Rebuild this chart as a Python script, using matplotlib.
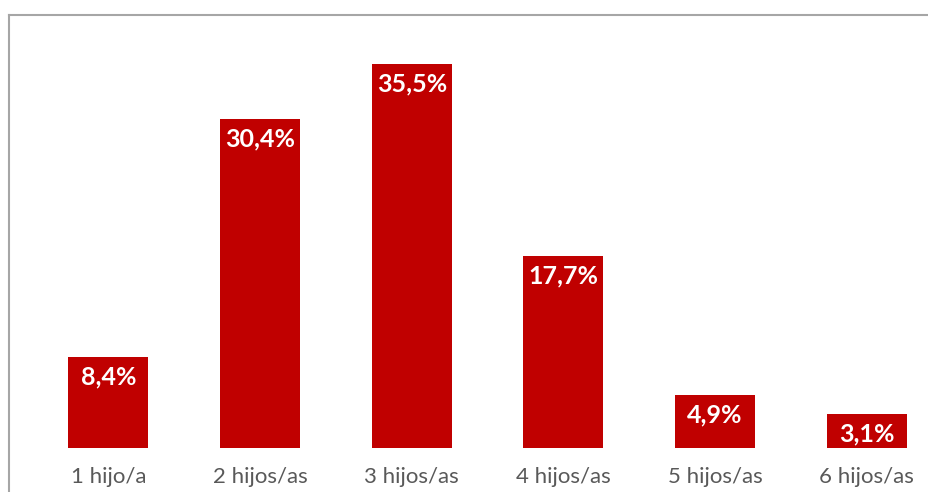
import matplotlib.pyplot as plt
from matplotlib.lines import Line2D

categorias = ['1 hijo/a', '2 hijos/as', '3 hijos/as', '4 hijos/as', '5 hijos/as', '6 hijos/as']
porcentajes = [8.4, 30.4, 35.5, 17.7, 4.9, 3.1]
etiquetas = ['8,4%', '30,4%', '35,5%', '17,7%', '4,9%', '3,1%']

W, H = 929, 492
fig = plt.figure(figsize=(W / 100, H / 100), dpi=100)

# plot area runs past the right edge, like the cropped original
ax = fig.add_axes([32.6 / W, 44 / H, 910 / W, 434 / H])
x = range(len(categorias))
ax.bar(x, porcentajes, width=0.527, color='#C00000')
ax.set_xlim(-0.5, 5.5)
ax.set_ylim(0, 434 / 10.82)

for i, (v, t) in enumerate(zip(porcentajes, etiquetas)):
    ax.annotate(t, (i, v), xytext=(0, -6), textcoords='offset points',
                ha='center', va='top', color='white', fontsize=18,
                fontweight='bold', family='Lato')

ax.set_xticks(list(x))
ax.set_xticklabels(categorias, fontsize=16, color='#595959', family='Lato')
ax.tick_params(axis='x', length=0, pad=14)
ax.set_yticks([])
for s in ax.spines.values():
    s.set_visible(False)

# gray frame of the chart box (top and left)
fig.add_artist(Line2D([8.5 / W, 8.5 / W], [0, 1 - 14.5 / H], color='#A6A6A6', lw=1.5))
fig.add_artist(Line2D([8.5 / W, 1], [1 - 14.5 / H, 1 - 14.5 / H], color='#A6A6A6', lw=1.5))

fig.savefig('out.png', dpi=100)
